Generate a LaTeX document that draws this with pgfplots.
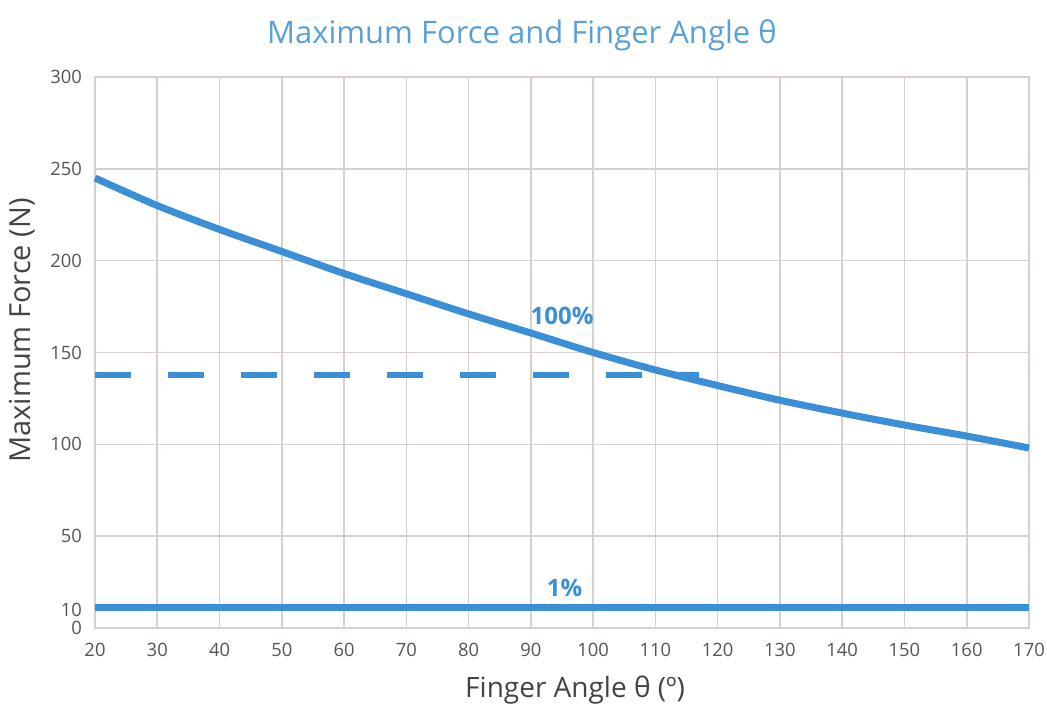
\documentclass[border=0pt]{standalone}
\usepackage{pgfplots}
\pgfplotsset{compat=1.18}
\usepackage{fontspec}
\setmainfont{Open Sans}
\definecolor{lineblue}{RGB}{58,143,214}
\definecolor{titleblue}{RGB}{90,160,216}
\definecolor{gridc}{RGB}{216,208,204}
\definecolor{tickc}{RGB}{85,85,85}
\begin{document}
\begin{tikzpicture}
\begin{axis}[
  scale only axis,
  width=467pt, height=275.5pt,
  xmin=20, xmax=170, ymin=0, ymax=300,
  xtick={20,30,...,170},
  ytick={0,10,50,100,150,200,250,300},
  grid=major,
  major grid style={gridc, line width=0.8pt},
  axis line style={gridc, line width=0.8pt},
  tick style={draw=none},
  ticklabel style={font=\fontsize{9.2}{11}\selectfont, text=tickc},
  /pgf/number format/assume math mode=true,
  yticklabel style={xshift=-3pt},
  xticklabel style={yshift=-4pt},
  clip=false,
]
\addplot[lineblue, line width=3.5pt, smooth] coordinates {
 (20,245) (30,230) (40,217) (50,205) (60,193) (70,182) (80,171) (90,160.6)
 (100,150) (110,140.5) (120,132) (130,124) (140,117) (150,110.5) (160,104.5) (170,98)
};
\addplot[lineblue, line width=3pt, dash pattern=on 18pt off 18.5pt] coordinates {(20,138) (117,138)};
\addplot[lineblue, line width=3.5pt] coordinates {(20,11) (170,11)};
\node[font=\bfseries\fontsize{12}{14}\selectfont, text=lineblue] at (axis cs:95,170) {100\%};
\node[font=\bfseries\fontsize{12}{14}\selectfont, text=lineblue] at (axis cs:95.4,22) {1\%};
\node[font=\fontsize{15.5}{17}\selectfont, text=titleblue] at (rel axis cs:0.457,1) [yshift=21pt] {Maximum Force and Finger Angle θ};
\node[font=\fontsize{14}{16}\selectfont, text=tickc!80!black] at (rel axis cs:0.514,0) [yshift=-31pt] {Finger Angle θ (º)};
\node[font=\fontsize{14.5}{16}\selectfont, text=tickc!80!black, rotate=90] at (rel axis cs:0,0.54) [yshift=36.5pt] {Maximum Force (N)};
\end{axis}
\pgfresetboundingbox
\path ([shift={(-47.5pt,-38.5pt)}]current axis.south west) rectangle ([shift={(9pt,38.5pt)}]current axis.north east);
\end{tikzpicture}
\end{document}
